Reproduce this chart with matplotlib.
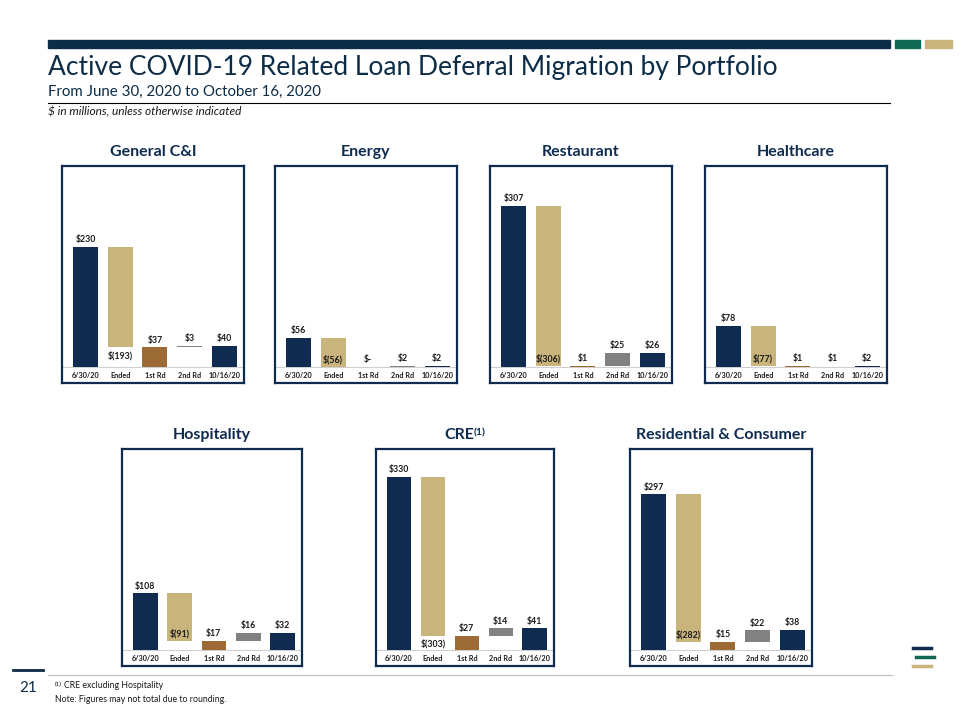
import matplotlib
matplotlib.use("Agg")
import matplotlib.pyplot as plt
from matplotlib.transforms import blended_transform_factory

# Datos de cada cartera ($ millones)
portfolios = ["General C&I", "Energy", "Restaurant", "Healthcare",
              "Hospitality", "CRE", "Residential & Consumer"]
start_vals = [230, 56, 307, 78, 108, 330, 297]
ended_vals = [-193, -56, -306, -77, -91, -303, -282]
rd1_vals = [37, 0, 1, 1, 17, 27, 15]
rd2_vals = [3, 2, 25, 1, 16, 14, 22]
final_vals = [40, 2, 26, 2, 32, 41, 38]
steps = ["6/30/20", "Ended", "1st Rd", "2nd Rd", "10/16/20"]

NAVY = "#0f2c50"
TAN = "#c9b57c"
BROWN = "#9c6a35"
GRAY = "#818181"
GREEN = "#0f6a53"
FONT = ["Lato", "DejaVu Sans"]

W, H = 960, 720
fig = plt.figure(figsize=(W / 100, H / 100), dpi=100)
plt.rcParams["font.family"] = FONT


def px(x, y):
    return x / W, 1 - y / H


def money(v):
    if v == 0:
        return "$-"
    if v < 0:
        return f"$({abs(v)})"
    return f"${v}"


# cajas de cada panel: (izq, arriba, der, abajo) en pixeles
boxes = [(62, 166, 244, 383), (275, 166, 457, 383), (490, 166, 672, 383), (705, 166, 887, 383),
         (122, 449, 302, 666), (376, 449, 554, 666), (630, 449, 812, 666)]

for k, name in enumerate(portfolios):
    l, t, r, b = boxes[k]
    ax = fig.add_axes([l / W, 1 - b / H, (r - l) / W, (b - t) / H])
    ax.set_xlim(-0.68, 4.57)
    ax.set_ylim(-31, 384)
    s, e, r1, r2, f = start_vals[k], ended_vals[k], rd1_vals[k], rd2_vals[k], final_vals[k]
    bottoms = [0, s + e, 0, r1, 0]
    heights = [s, -e, r1, r2, f]
    colors = [NAVY, TAN, BROWN, GRAY, NAVY]
    ax.bar(range(5), heights, bottom=bottoms, width=0.72, color=colors, zorder=2)
    ax.axhline(0, color="#d0d0d0", lw=0.8, zorder=1)

    lab_kw = dict(ha="center", fontsize=6.3, fontweight="bold", color="#1a1a1a",
                  textcoords="offset points")
    ax.annotate(money(s), (0, s), xytext=(0, 2), va="bottom", **lab_kw)
    if s + e > 20:
        ax.annotate(money(e), (1, s + e), xytext=(0, -2.5), va="top", **lab_kw)
    else:
        ax.annotate(money(e), (1, s + e), xytext=(0, 2), va="bottom", **lab_kw)
    ax.annotate(money(r1), (2, r1), xytext=(0, 2), va="bottom", **lab_kw)
    ax.annotate(money(r2), (3, r1 + r2), xytext=(0, 2), va="bottom", **lab_kw)
    ax.annotate(money(f), (4, f), xytext=(0, 2), va="bottom", **lab_kw)

    trans = blended_transform_factory(ax.transData, ax.transAxes)
    for i, st in enumerate(steps):
        ax.text(i, 0.035, st, transform=trans, ha="center", va="center",
                fontsize=5.2, fontweight="bold", color="#1a1a1a")

    ax.set_xticks([])
    ax.set_yticks([])
    for sp in ax.spines.values():
        sp.set_color(NAVY)
        sp.set_linewidth(1.6)

    cx = (l + r) / 2
    ty = t - 14
    if name == "CRE":
        tt = fig.text(*px(cx - 6, ty), name, ha="center", va="center",
                      fontsize=11.5, fontweight="bold", color=NAVY)
        ax.annotate("(1)", xy=(1.0, 1.0), xycoords=tt, ha="left", va="top",
                    fontsize=7.5, fontweight="bold", color=NAVY, annotation_clip=False)
    else:
        fig.text(*px(cx, ty), name, ha="center", va="center",
                 fontsize=11.5, fontweight="bold", color=NAVY)

# Encabezado
fig.add_artist(plt.Rectangle(px(48, 48), 842 / W, 8 / H, color="#0c2c47", transform=fig.transFigure))
fig.add_artist(plt.Rectangle(px(895, 48), 25 / W, 8 / H, color=GREEN, transform=fig.transFigure))
fig.add_artist(plt.Rectangle(px(925, 48), 27 / W, 8 / H, color=TAN, transform=fig.transFigure))

fig.text(*px(48, 67), "Active COVID-19 Related Loan Deferral Migration by Portfolio",
         fontsize=19, color="#0c2c47", va="center", ha="left")
fig.text(*px(48, 92), "From June 30, 2020 to October 16, 2020",
         fontsize=10.8, color="#0c2c47", va="center", ha="left")
fig.add_artist(plt.Line2D([48 / W, 890 / W], [1 - 103 / H] * 2, color="black", lw=0.8))
fig.text(*px(48, 112), "$ in millions, unless otherwise indicated",
         fontsize=8.6, style="italic", color="#1a1a1a", va="center", ha="left")

# Pie de pagina
fig.add_artist(plt.Line2D([48 / W, 892 / W], [1 - 675 / H] * 2, color="#bdbdbd", lw=0.8))
fig.add_artist(plt.Line2D([13 / W, 43 / W], [1 - 670 / H] * 2, color="#0c2c47", lw=2))
fig.text(*px(28, 688), "21", fontsize=11, color="#0c2c47", ha="center", va="center")
fig.text(*px(55, 684), "(1)", fontsize=4.5, color="#1a1a1a", ha="left", va="center")
fig.text(*px(64, 686), "CRE excluding Hospitality", fontsize=6.3, color="#1a1a1a", ha="left", va="center")
fig.text(*px(55, 699), "Note: Figures may not total due to rounding.", fontsize=6.3,
         color="#1a1a1a", ha="left", va="center")

# Logo
for y, x0, c in [(648, 913, NAVY), (657, 916, GREEN), (666, 913, TAN)]:
    fig.add_artist(plt.Line2D([x0 / W, (x0 + 18) / W], [1 - y / H] * 2, color=c, lw=2.5))

fig.savefig("out.png", dpi=100)
